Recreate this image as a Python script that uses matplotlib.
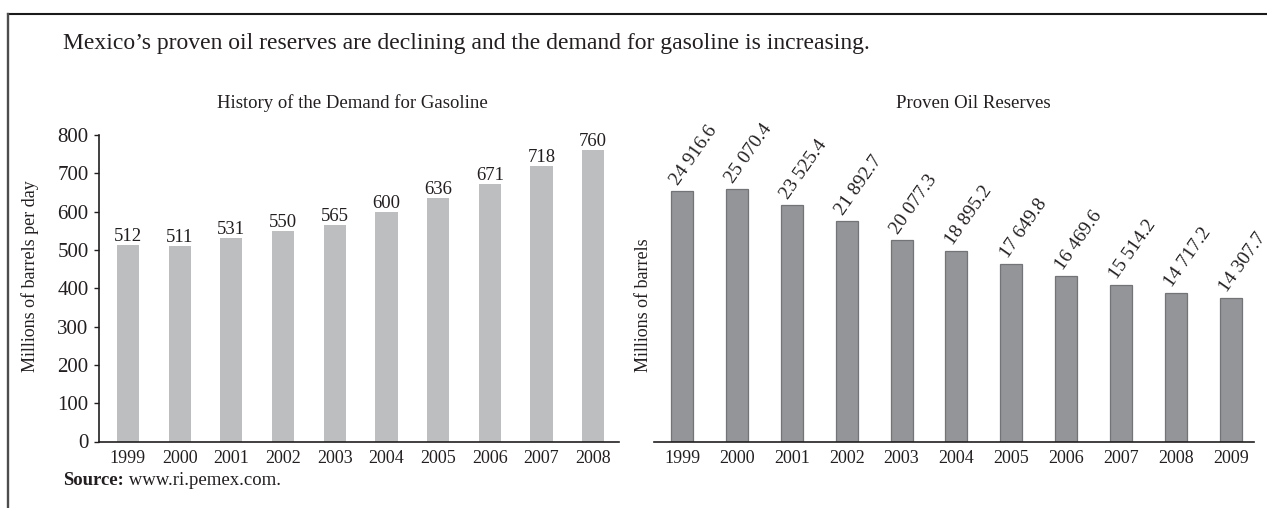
import matplotlib
matplotlib.use("Agg")
import matplotlib.pyplot as plt
from matplotlib.lines import Line2D

plt.rcParams['font.family'] = ['Liberation Serif', 'DejaVu Serif']

# ---- data ----
demand_years = ['1999', '2000', '2001', '2002', '2003', '2004', '2005', '2006', '2007', '2008']
demand_values = [512, 511, 531, 550, 565, 600, 636, 671, 718, 760]

reserve_years = ['1999', '2000', '2001', '2002', '2003', '2004', '2005', '2006', '2007', '2008', '2009']
reserve_values = [24916.6, 25070.4, 23525.4, 21892.7, 20077.3, 18895.2, 17649.8, 16469.6, 15514.2, 14717.2, 14307.7]
reserve_labels = ['24 916.6', '25 070.4', '23 525.4', '21 892.7', '20 077.3', '18 895.2',
                  '17 649.8', '16 469.6', '15 514.2', '14 717.2', '14 307.7']

main_title = "Mexico\u2019s proven oil reserves are declining and the demand for gasoline is increasing."
left_title = "History of the Demand for Gasoline"
right_title = "Proven Oil Reserves"
left_ylabel = "Millions of barrels per day"
right_ylabel = "Millions of barrels"
source_head = "Source:"
source_body = " www.ri.pemex.com."

TXT = '#231f20'
W, H = 1267, 508
fig = plt.figure(figsize=(W / 100, H / 100), dpi=100)


def fx(px):
    return px / W


def fy(py):
    return 1 - py / H


# frame lines (top and left)
fig.add_artist(Line2D([fx(8), 1.0], [fy(13.5), fy(13.5)], color='#1a1a1a', lw=1.5))
fig.add_artist(Line2D([fx(8), fx(8)], [0.0, fy(13.5)], color='#4d4d4d', lw=1.7))

fig.text(fx(63), fy(43), main_title, fontsize=17, ha='left', va='center', color=TXT)
src = fig.text(fx(63), fy(485), source_head, fontsize=13.5, ha='left', va='baseline',
               color=TXT, fontweight='bold')
fig.canvas.draw()
bb = src.get_window_extent(renderer=fig.canvas.get_renderer())
fig.text(bb.x1 / W, fy(485), source_body, fontsize=13.5, ha='left', va='baseline', color=TXT)

# ---- left chart ----
axL = fig.add_axes([fx(99), fy(441.5), fx(619 - 99), (441.5 - 135) / H])
xl = list(range(len(demand_years)))
axL.bar(xl, demand_values, width=0.43, color='#bcbec0', edgecolor='none')
axL.set_xlim(-0.56, len(demand_years) - 0.5)
axL.set_ylim(0, 800)
axL.set_yticks(range(0, 801, 100))
axL.set_xticks(xl)
axL.set_xticklabels(demand_years)
for s in ['top', 'right']:
    axL.spines[s].set_visible(False)
for s in ['left', 'bottom']:
    axL.spines[s].set_color(TXT)
    axL.spines[s].set_linewidth(1.2)
axL.tick_params(axis='y', direction='out', length=3.5, width=1, colors=TXT, labelsize=15, pad=4)
axL.tick_params(axis='x', length=0, colors=TXT, labelsize=13, pad=6)
for x, v in zip(xl, demand_values):
    axL.annotate(str(v), (x, v), xytext=(0, 0), textcoords='offset points',
                 ha='center', va='bottom', fontsize=13.5, color=TXT)
fig.text(fx(30), fy(276), left_ylabel, rotation=90, fontsize=13, color=TXT,
         ha='center', va='center')
fig.text(fx(352), fy(103), left_title, fontsize=13.5, color=TXT, ha='center', va='center')

# ---- right chart ----
axR = fig.add_axes([fx(654), fy(441.5), fx(1254 - 654), 301.8 / H])
xr = list(range(len(reserve_years)))
axR.bar(xr, reserve_values, width=0.4, color='#939598', edgecolor='#737477', linewidth=0.9)
axR.set_xlim(-0.51, len(reserve_years) - 0.58)
axR.set_ylim(0, 30000)
axR.set_yticks([])
axR.set_xticks(xr)
axR.set_xticklabels(reserve_years)
for s in ['top', 'right', 'left']:
    axR.spines[s].set_visible(False)
axR.spines['bottom'].set_color(TXT)
axR.spines['bottom'].set_linewidth(1.2)
axR.tick_params(axis='x', length=0, colors=TXT, labelsize=13, pad=6)
for x, v, lab in zip(xr, reserve_values, reserve_labels):
    axR.annotate(lab, (x, v), xytext=(-2.7, 3.6), textcoords='offset points',
                 ha='left', va='baseline', rotation=55, rotation_mode='anchor',
                 fontsize=14, color=TXT, annotation_clip=False)
fig.text(fx(643), fy(305), right_ylabel, rotation=90, fontsize=13, color=TXT,
         ha='center', va='center')
fig.text(fx(973), fy(103), right_title, fontsize=13.5, color=TXT, ha='center', va='center')

fig.savefig('out.png', dpi=100)
